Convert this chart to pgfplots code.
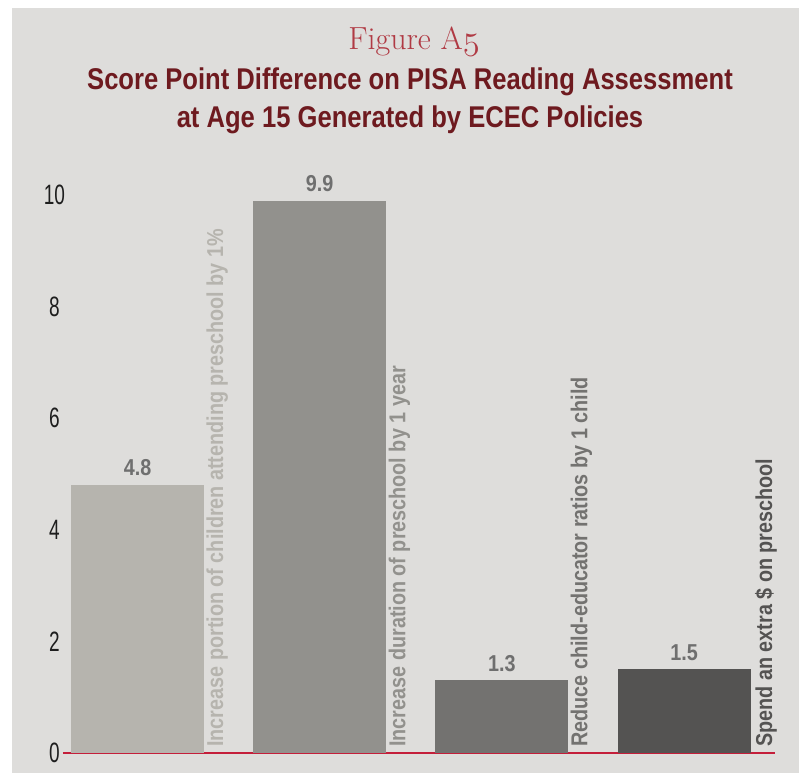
\documentclass[border=0pt]{standalone}
\usepackage{fontspec}
\usepackage{pgfplots}
\pgfplotsset{compat=1.18}
\newfontfamily\condb[FakeStretch=0.853]{Liberation Sans}
\newfontfamily\catf[FakeStretch=0.86]{Liberation Sans}
\newfontfamily\tickf[FakeStretch=0.68]{Liberation Sans}
\definecolor{bg}{HTML}{DEDDDB}
\definecolor{barA}{HTML}{B6B4AE}
\definecolor{barB}{HTML}{92918D}
\definecolor{barC}{HTML}{737270}
\definecolor{barD}{HTML}{545352}
\definecolor{redline}{HTML}{C41E3A}
\definecolor{figred}{HTML}{B03A44}
\definecolor{titred}{HTML}{6E1A1F}
\definecolor{valcol}{HTML}{6F6F6F}
\definecolor{tickcol}{HTML}{1E1E1E}
\begin{document}
\begin{tikzpicture}
\useasboundingbox (0,0) rectangle (399.5pt,386.5pt);
\fill[white] (0,0) rectangle (399.5pt,386.5pt);
\fill[bg] (6pt,0) rectangle (399.5pt,382.5pt);
\node[anchor=base, text=figred, inner sep=0] at (207pt,361.5pt)
  {\fontsize{16}{18}\selectfont\addfontfeature{LetterSpace=3}Figure A$\mathnormal{5}$};
\node[anchor=base, text=titred, inner sep=0] at (205pt,341.5pt)
  {\condb\bfseries\fontsize{15}{17}\selectfont Score Point Difference on PISA Reading Assessment};
\node[anchor=base, text=titred, inner sep=0] at (205pt,322.5pt)
  {\condb\bfseries\fontsize{15}{17}\selectfont at Age 15 Generated by ECEC Policies};
\begin{axis}[
  at={(31.5pt,10pt)}, anchor=south west,
  scale only axis, width=356pt, height=279pt,
  xmin=-0.409, xmax=3.499, ymin=0, ymax=10,
  clip=false,
  axis x line=none,
  axis y line*=left,
  y axis line style={draw=none},
  ytick={0,2,4,6,8,10},
  major tick length=0pt,
  /pgf/number format/assume math mode=true,
  yticklabel style={anchor=center, xshift=-4.25pt, text=tickcol,
    font=\tickf\fontsize{14}{14}\selectfont},
  ybar, bar width=66.5pt,
  nodes near coords,
  every node near coord/.append style={font=\catf\bfseries\fontsize{11.5}{12}\selectfont,
    text=valcol, anchor=south, yshift=1pt},
]
\draw[redline, line width=1.3pt] (axis cs:-0.409,0) -- (axis cs:3.499,0);
\addplot[fill=barA, draw=none, bar shift=0pt] coordinates {(0,4.8)};
\addplot[fill=barB, draw=none, bar shift=0pt] coordinates {(1,9.9)};
\addplot[fill=barC, draw=none, bar shift=0pt] coordinates {(2,1.3)};
\addplot[fill=barD, draw=none, bar shift=0pt] coordinates {(3,1.5)};
\node[rotate=90, anchor=north west, inner sep=0, text=barA, font=\catf\bfseries\fontsize{11.5}{12}\selectfont]
  at ([xshift=1pt,yshift=3pt]axis cs:0.365,0) {Increase portion of children attending preschool by 1\%};
\node[rotate=90, anchor=north west, inner sep=0, text=barB, font=\catf\bfseries\fontsize{11.5}{12}\selectfont]
  at ([xshift=1pt,yshift=3pt]axis cs:1.365,0) {Increase duration of preschool by 1 year};
\node[rotate=90, anchor=north west, inner sep=0, text=barC, font=\catf\bfseries\fontsize{11.5}{12}\selectfont]
  at ([xshift=1pt,yshift=3pt]axis cs:2.365,0) {Reduce child-educator ratios by 1 child};
\node[rotate=90, anchor=north west, inner sep=0, text=barD, font=\catf\bfseries\fontsize{11.5}{12}\selectfont]
  at ([xshift=2pt,yshift=3pt]axis cs:3.365,0) {Spend an extra \$ on preschool};
\end{axis}
\end{tikzpicture}
\end{document}
